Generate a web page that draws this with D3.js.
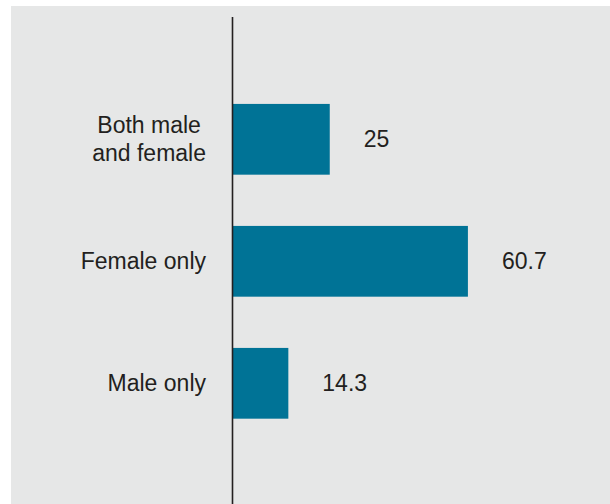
<!DOCTYPE html>
<html>
<head>
<meta charset="utf-8">
<script src="https://cdn.jsdelivr.net/npm/d3@7"></script>
<style>
  html, body { margin: 0; padding: 0; background: #ffffff; }
  svg { display: block; }
  text { font-family: "Liberation Sans", Arial, sans-serif; fill: #231f20; }
</style>
</head>
<body>
<svg id="chart" width="610" height="504"></svg>
<script>
const categories = [["Both male", "and female"], ["Female only"], ["Male only"]];
const values = [25, 60.7, 14.3];
const valueLabels = ["25", "60.7", "14.3"];

const W = 610, H = 504;
const svg = d3.select("#chart");

svg.append("rect").attr("x", 11).attr("y", 6).attr("width", W - 11).attr("height", H - 6)
  .attr("fill", "#e6e7e7");

const x0 = 233;
const x = d3.scaleLinear().domain([0, 100]).range([x0, x0 + 387]);
const y = d3.scaleBand().domain(d3.range(categories.length))
  .range([78.3, 444.3]).paddingInner(0.42).paddingOuter(0.21);

const fs = 23;

svg.selectAll("rect.bar").data(values).enter().append("rect")
  .attr("class", "bar")
  .attr("x", x(0))
  .attr("y", (d, i) => y(i))
  .attr("width", d => x(d) - x(0))
  .attr("height", y.bandwidth())
  .attr("fill", "#007396");

// axis line
svg.append("line").attr("x1", 232.5).attr("x2", 232.5).attr("y1", 17).attr("y2", H)
  .attr("stroke", "#231f20").attr("stroke-width", 1.6);

// value labels
svg.selectAll("text.val").data(values).enter().append("text")
  .attr("class", "val")
  .attr("x", d => x(d) + 34)
  .attr("y", (d, i) => y(i) + y.bandwidth() / 2 + 7.5)
  .attr("font-size", fs)
  .text((d, i) => valueLabels[i]);

// category labels: block right-aligned at 206, lines centered within block
const rightEdge = 206;
const lineH = 28;
categories.forEach((lines, i) => {
  const cy = y(i) + y.bandwidth() / 2;
  const g = svg.append("g");
  const texts = lines.map((ln, k) => g.append("text")
    .attr("font-size", fs)
    .attr("text-anchor", "middle")
    .attr("y", cy + 8 + (k - (lines.length - 1) / 2) * lineH)
    .text(ln));
  const maxW = d3.max(texts, t => t.node().getComputedTextLength());
  texts.forEach(t => t.attr("x", rightEdge - maxW / 2));
});
</script>
</body>
</html>
